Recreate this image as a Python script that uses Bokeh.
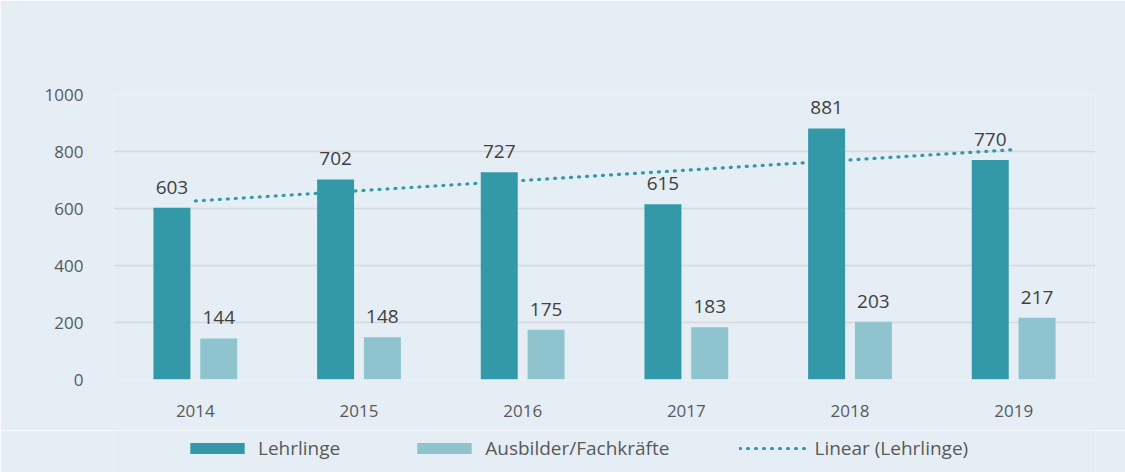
import numpy as np
from bokeh.plotting import figure
from bokeh.layouts import column
from bokeh.models import ColumnDataSource, FactorRange, Legend, LegendItem, Range1d, FixedTicker
from bokeh.transform import dodge
from bokeh.embed import file_html
from bokeh.resources import INLINE
from bokeh.core.properties import value

years = ["2014", "2015", "2016", "2017", "2018", "2019"]
lehrlinge = [603, 702, 727, 615, 881, 770]
ausbilder = [144, 148, 175, 183, 203, 217]
y_ticks = [0, 200, 400, 600, 800, 1000]
legend_labels = ["Lehrlinge", "Ausbilder/Fachkräfte", "Linear (Lehrlinge)"]

# Excel-style linear trendline of Lehrlinge
idx = np.arange(1, len(years) + 1)
slope, intercept = np.polyfit(idx, lehrlinge, 1)
trend = list(slope * idx + intercept)

src = ColumnDataSource(dict(
    years=years, lehrlinge=lehrlinge, ausbilder=ausbilder, trend=trend,
    l_txt=[str(v) for v in lehrlinge], a_txt=[str(v) for v in ausbilder],
))

BG = "#e5eef4"
TEAL = "#3399a8"
LIGHT = "#8fc4cf"
FONT = "Open Sans"

p = figure(
    x_range=FactorRange(*years), y_range=Range1d(0, 1000),
    width=1125, height=430, output_backend="svg", toolbar_location=None,
    min_border_left=113, min_border_right=30, min_border_top=94, min_border_bottom=51,
)
p.background_fill_color = BG
p.border_fill_color = BG
p.outline_line_color = None

off = 0.143
bw = 0.226
trend_style = dict(line_color=TEAL, line_width=3.2, line_dash="1 7", line_cap="round")

p.line(x="years", y="trend", source=src, **trend_style)
p.vbar(x=dodge("years", -off, range=p.x_range), top="lehrlinge", width=bw,
       source=src, fill_color=TEAL, line_color=None)
p.vbar(x=dodge("years", off, range=p.x_range), top="ausbilder", width=bw,
       source=src, fill_color=LIGHT, line_color=None)

for col, txt, dx in (("lehrlinge", "l_txt", -off), ("ausbilder", "a_txt", off)):
    p.text(x=dodge("years", dx, range=p.x_range), y=col, text=txt, source=src,
           text_align="center", text_baseline="bottom", y_offset=-14,
           text_font=value(FONT), text_font_size="19px", text_color="#404040")

p.xgrid.grid_line_color = None
p.ygrid.grid_line_color = "#d6d9db"
p.ygrid.grid_line_width = 1.6
p.yaxis.ticker = FixedTicker(ticks=y_ticks)

for ax in (p.xaxis, p.yaxis):
    ax.axis_line_color = None
    ax.major_tick_line_color = None
    ax.minor_tick_line_color = None
    ax.major_label_text_font = FONT
    ax.major_label_text_font_size = "17px"
    ax.major_label_text_color = "#595959"
p.yaxis.major_label_standoff = 24
p.xaxis.major_label_standoff = 19

# legend strip below the chart (its glyph renderers sit outside its visible range)
lf = figure(width=1125, height=42, output_backend="svg", toolbar_location=None,
            x_range=Range1d(0, 1), y_range=Range1d(0, 1),
            x_axis_location=None, y_axis_location=None,
            min_border_left=113, min_border_right=30, min_border_top=0, min_border_bottom=0)
lf.background_fill_color = BG
lf.border_fill_color = BG
lf.outline_line_color = None
lf.grid.grid_line_color = None
hidden = ColumnDataSource(dict(x=[-5, -4], y=[-5, -4]))
r1 = lf.vbar(x="x", top="y", width=0.1, source=hidden, fill_color=TEAL, line_color=None)
r2 = lf.vbar(x="x", top="y", width=0.1, source=hidden, fill_color=LIGHT, line_color=None)
r3 = lf.line(x="x", y="y", source=hidden, **trend_style)

legend = Legend(
    items=[LegendItem(label=lab, renderers=[r]) for lab, r in zip(legend_labels, (r1, r2, r3))],
    orientation="horizontal", location=(70, 11),
    glyph_width=68, glyph_height=14, spacing=70, label_standoff=7,
    label_text_font=FONT, label_text_font_size="19px", label_text_color="#595959",
    background_fill_alpha=0, border_line_color=None, padding=0, margin=0,
)
lf.add_layout(legend)

layout = column(p, lf, spacing=0)
open("out.html", "w").write(file_html(layout, INLINE))
